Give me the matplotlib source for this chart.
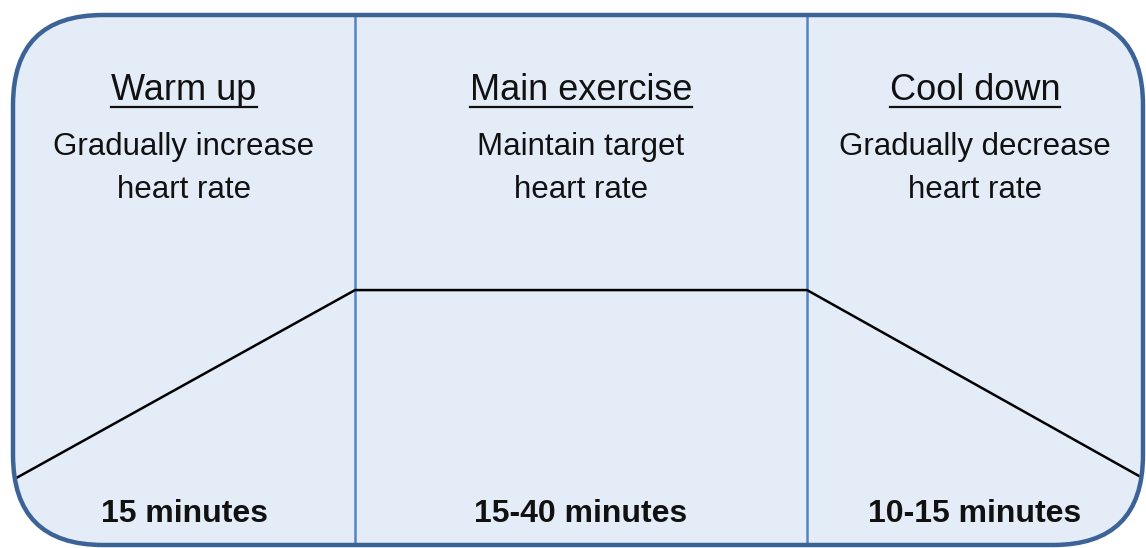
import matplotlib.pyplot as plt
from matplotlib.patches import FancyBboxPatch
from matplotlib.lines import Line2D

# phases of an exercise session
phase_names = ["Warm up", "Main exercise", "Cool down"]
phase_notes = [["Gradually increase", "heart rate"],
               ["Maintain target", "heart rate"],
               ["Gradually decrease", "heart rate"]]
phase_times = ["15 minutes", "15-40 minutes", "10-15 minutes"]

# phase boundaries (fraction of panel width) and heart-rate level at each boundary
phase_edges = [0.0, 0.3027, 0.7027, 1.0]
hr_level = [0.123, 0.481, 0.481, 0.126]

W, H = 1146, 548
fig = plt.figure(figsize=(W / 100, H / 100), dpi=100)
fig.patch.set_facecolor("white")

# canvas axes in pixels for the rounded frame
cv = fig.add_axes([0, 0, 1, 1])
cv.set_xlim(0, W)
cv.set_ylim(0, H)
cv.axis("off")

bx0, by0, bx1, by1 = 13, 3, 1143, 533
fill = FancyBboxPatch((bx0, by0), bx1 - bx0, by1 - by0,
                      boxstyle="round,pad=0,rounding_size=90",
                      facecolor="#e3ecf7", edgecolor="none", zorder=0)
cv.add_patch(fill)

# data axes covering the panel
ax = fig.add_axes([bx0 / W, by0 / H, (bx1 - bx0) / W, (by1 - by0) / H])
ax.set_xlim(0, 1)
ax.set_ylim(0, 1)
ax.axis("off")
ax.patch.set_alpha(0)

for xe in phase_edges[1:-1]:
    ax.axvline(xe, color="#5584c4", lw=1.8, zorder=2)

ax.plot(phase_edges, hr_level, color="black", lw=1.8, zorder=3,
        solid_capstyle="butt")

border = FancyBboxPatch((bx0, by0), bx1 - bx0, by1 - by0,
                        boxstyle="round,pad=0,rounding_size=90",
                        facecolor="none", edgecolor="#3c6397", lw=3.2, zorder=5)
cv.add_patch(border)
cv.set_zorder(ax.get_zorder() + 1)
cv.patch.set_alpha(0)
fill.remove()
fig.add_artist(fill)
fill.set_transform(cv.transData)
fill.set_zorder(-1)

title_font = dict(family=["Liberation Sans", "DejaVu Sans"], fontsize=26, color="#111111")
regular = dict(family=["Liberation Sans", "DejaVu Sans"], fontsize=22.5, color="#111111")
bold = dict(family=["Liberation Sans", "DejaVu Sans"],
            fontsize=23, fontweight="bold", color="#111111")

titles = []
for i in range(3):
    xc = (phase_edges[i] + phase_edges[i + 1]) / 2
    t = ax.text(xc, 0.8396, phase_names[i], ha="center", va="baseline", **title_font)
    titles.append(t)
    ax.text(xc, 0.7358, phase_notes[i][0], ha="center", va="baseline", **regular)
    ax.text(xc, 0.6547, phase_notes[i][1], ha="center", va="baseline", **regular)
    ax.text(xc, 0.0434, phase_times[i], ha="center", va="baseline", **bold)

# underline the phase names
fig.canvas.draw()
r = fig.canvas.get_renderer()
for t in titles:
    bb = t.get_window_extent(r)
    cv.add_line(Line2D([bb.x0, bb.x1], [H - 107, H - 107], color="#111111", lw=1.6))

fig.savefig("out.png", dpi=100, facecolor="white")
